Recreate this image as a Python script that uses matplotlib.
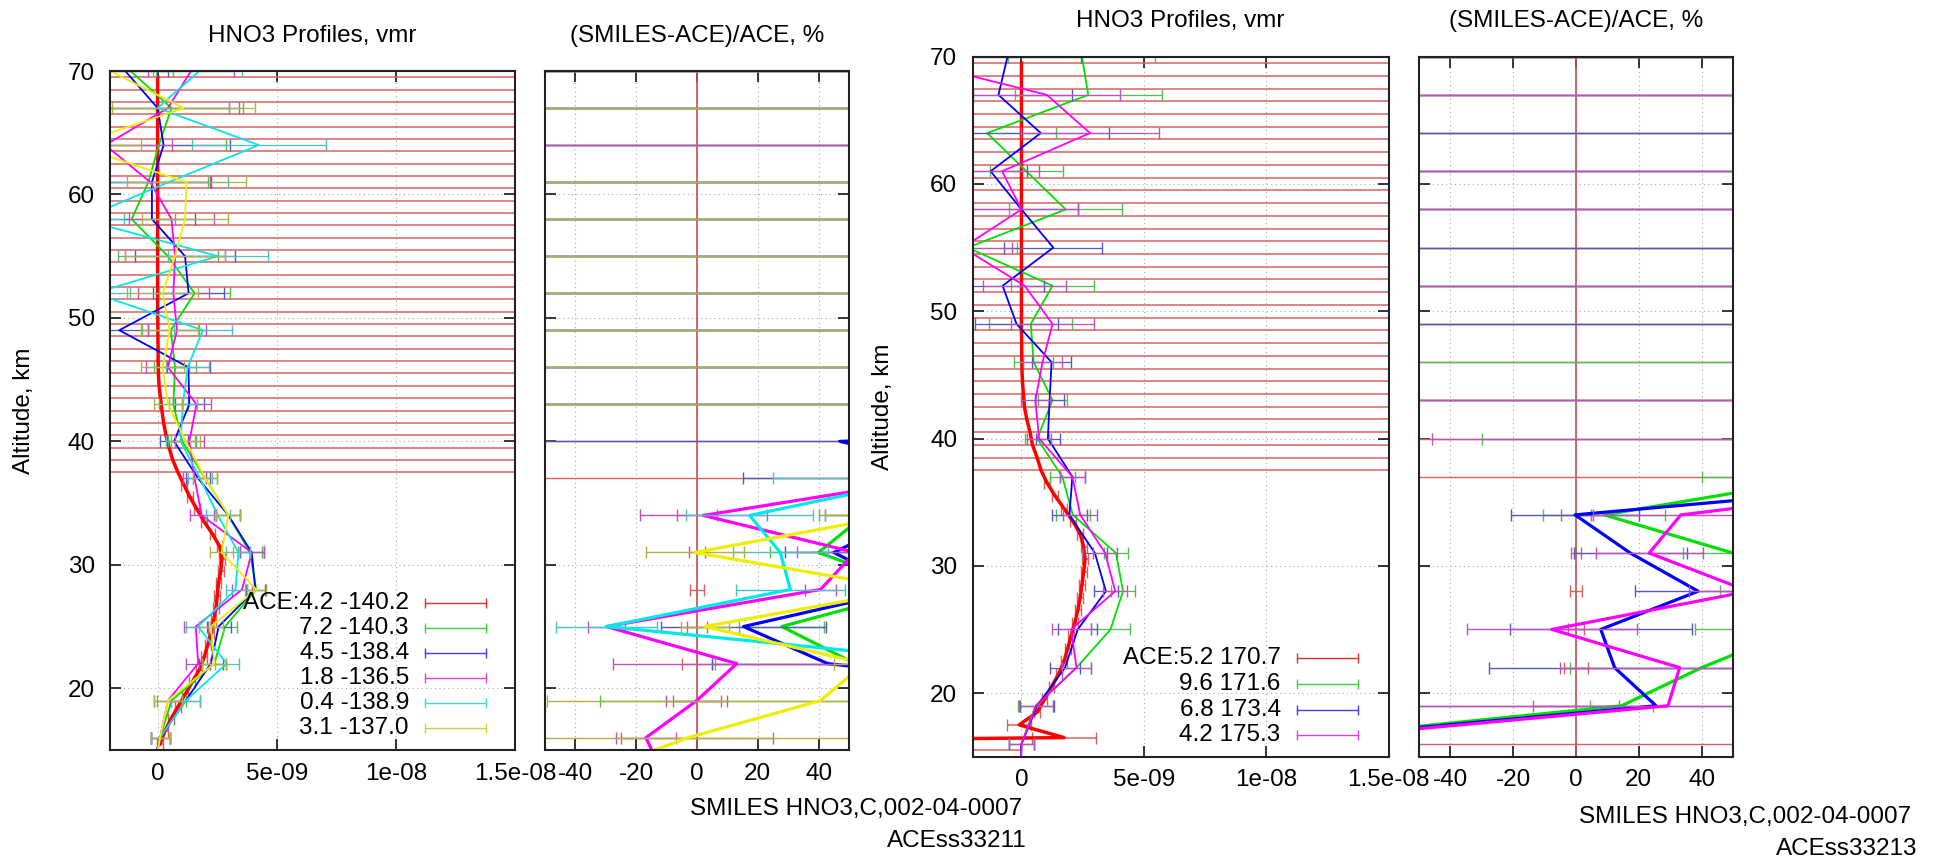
import numpy as np
import matplotlib
matplotlib.use('Agg')
import matplotlib.pyplot as plt

plt.rcParams['font.family'] = ['Liberation Sans', 'DejaVu Sans']
plt.rcParams['font.size'] = 17.5

BIG = 999.0

# SMILES retrieval levels (km) and ACE levels (km)
smiles_alt = [70, 67, 64, 61, 58, 55, 52, 49, 46, 43, 40, 37, 34, 31, 28, 25, 22, 19, 16, 13]
ace_alt = np.arange(69.5, 15.0, -1.0)

# ---------------- left pair (ACEss33211) ----------------
left_labels = ['ACE:4.2 -140.2', '7.2 -140.3', '4.5 -138.4', '1.8 -136.5', '0.4 -138.9', '3.1 -137.0']

# ACE profile, 1e-9 vmr
left_ace = [0.00, 0.00, 0.00, 0.00, 0.00, 0.00, 0.00, 0.00, 0.00, 0.00,
            0.00, 0.00, 0.00, 0.00, 0.00, 0.00, 0.00, 0.00, 0.00, 0.00,
            0.01, 0.01, 0.02, 0.02, 0.03, 0.06, 0.12, 0.18, 0.25, 0.35,
            0.48, 0.63, 0.85, 1.10, 1.35, 1.65, 1.95, 2.30, 2.60, 2.70,
            2.65, 2.55, 2.50, 2.45, 2.35, 2.25, 2.10, 1.95, 1.75, 1.45,
            1.15, 0.85, 0.55, 0.30, 0.10]
left_ace_err = [BIG] * 33 + [0.12] * 22

# SMILES profiles, 1e-9 vmr
left_green = [-1.14, 0.58, 0.05, -0.39, -1.09, 0.43, 1.55, 0.55, 0.73, 0.66,
              1.03, 2.0, 2.97, 3.87, 4.14, 2.83, 2.38, 0.58, 0.1, -0.25]
left_blue = [-1.36, 0.0, 0.25, -0.24, -0.24, 1.15, 1.3, -1.61, 1.29, 1.33,
             0.69, 1.7, 2.97, 3.95, 4.1, 2.56, 2.23, 1.18, 0.1, -0.3]
left_magenta = [1.4, 0.43, -2.2, -0.31, 0.58, 0.73, 0.66, 0.81, 0.43, 1.63,
                1.33, 1.55, 1.85, 3.95, 3.54, 1.6, 1.7, 0.43, 0.1, -0.2]
left_cyan = [1.75, 0.0, 4.25, 0.47, -3.2, 2.53, -2.65, 1.9, 1.26, 1.06,
             0.96, 1.78, 2.53, 3.39, 3.27, 1.7, 2.9, 1.18, 0.1, -0.15]
left_yellow = [-2.0, 1.1, -3.5, 1.21, 1.15, 0.73, 0.21, 0.51, 0.21, 0.43,
               1.18, 2.0, 2.97, 2.68, 4.14, 2.23, 2.38, 0.43, 0.1, -0.2]
left_err = [1.8, 3.0, 2.8, 2.5, 1.8, 2.1, 1.5, 1.2, 0.9, 0.6,
            0.6, 0.5, 0.5, 0.5, 0.4, 0.5, 0.5, 0.6, 0.4, 0.4]

# (SMILES-ACE)/ACE, %
left_d_green = [400, 400, 400, 400, 400, 400, 400, 400, 400, 400,
                400, 200, 55, 40, 73, 27.9, 52, 150, 150, 150]
left_d_blue = [400, 400, 400, 400, 400, 400, 400, 400, 400, 400,
               47, 100, 70, 45, 69, 15.3, 43, 150, 150, 150]
left_d_magenta = [400, 400, 400, 400, 400, 400, 400, 400, 400, 400,
                  400, 78, 2.1, 52, 40.6, -29.8, 13.1, -0.1, -16.8, -11]
left_d_cyan = [400, 400, 400, 400, 400, 400, 400, 400, 400, 400,
               400, 75, 17.3, 27.4, 30.7, -29.8, 93, 150, 150, 150]
left_d_yellow = [400, 400, 400, 400, 400, 400, 400, 400, 400, 400,
                 400, 200, 65, -0.7, 70, 2.6, 55, 40.6, -2.9, -36]
left_d_ace_err = [BIG] * 12 + [6.5, 2.5, 2.4, 3.4, 5, 8, 25, 30]
left_d_green_err = [BIG] * 10 + [20, 20, 15, 16, 10, 14, 46, 182, 20, 20]
left_d_blue_err = [BIG] * 11 + [85, 28, 16, 15, 27, 38, 20, 20, 20]
left_d_magenta_err = [BIG] * 10 + [20, 20, 21, 19, 5, 6, 40.7, 10, 10, 10]
left_d_cyan_err = [BIG, BIG, 20, BIG, BIG, BIG, BIG, BIG, BIG, BIG,
                   20, 50, 21, 15.7, 18, 16.5, 20, 20, 20, 20]
left_d_yellow_err = [BIG, BIG, 20, BIG, BIG, BIG, BIG, BIG, BIG, BIG,
                     20, 20, 23, 16, 10, 8, 10, 90, BIG, 20]

# ---------------- right pair (ACEss33213) ----------------
right_labels = ['ACE:5.2 170.7', '9.6 171.6', '6.8 173.4', '4.2 175.3']

right_ace = [0.00, 0.00, 0.00, 0.00, 0.00, 0.00, 0.00, 0.00, 0.00, 0.00,
             0.00, 0.00, 0.00, 0.00, 0.00, 0.00, 0.00, 0.00, 0.00, 0.00,
             0.00, 0.00, 0.01, 0.01, 0.02, 0.04, 0.08, 0.12, 0.22, 0.35,
             0.45, 0.64, 0.80, 1.05, 1.37, 1.74, 2.10, 2.40, 2.54, 2.60,
             2.54, 2.47, 2.40, 2.30, 2.18, 2.03, 1.89, 1.74, 1.52, 1.23,
             0.94, 0.64, -0.09, 1.74, -50.0]
right_ace_err = [BIG] * 33 + [0.12] * 19 + [0.5, 1.3, 50.0]

right_green = [2.47, 2.73, -1.4, 0.2, 1.81, -2.2, 1.27, 0.38, 0.5, 1.27,
               0.64, 1.67, 2.1, 3.86, 4.15, 3.64, 2.25, 0.57, 0.0, -0.05]
right_blue = [-0.57, -0.94, 0.79, -1.26, 0.0, 1.3, -0.77, -0.2, 1.23, 1.15,
              1.08, 2.08, 1.96, 3.0, 3.45, 2.3, 1.78, 0.64, 0.0, -0.05]
right_magenta = [-5.2, 1.04, 2.8, -0.79, 0.0, -2.4, 0.13, 1.27, 0.86, 0.57,
                 0.72, 2.08, 2.4, 3.42, 3.83, 2.03, 2.25, 0.6, 0.0, -0.05]
right_err = [3.0, 3.0, 2.8, 1.5, 2.3, 2.0, 1.7, 1.7, 0.8, 0.6,
             0.5, 0.5, 0.7, 0.5, 0.5, 0.8, 0.6, 0.7, 0.5, 0.5]

right_d_green = [400, 400, 400, 400, 400, 400, 400, 400, 400, 400,
                 300, 81, 9, 50, 80, 70, 40, 14.5, -106, -300]
right_d_blue = [400, 400, 400, 400, 400, 400, 400, 400, 400, 400,
                300, 135, -0.3, 17.3, 38.9, 7.9, 12.3, 25.5, -107, -300]
right_d_magenta = [400, 400, 400, 400, 400, 400, 400, 400, 400, 400,
                   300, 133, 33.4, 23.3, 55, -7.7, 33, 29.3, -103, -300]
right_d_ace_err = [BIG] * 12 + [4.8, 1.6, 1.8, 2.6, 3.8, 13.7, BIG, BIG]
right_d_green_err = [BIG] * 10 + [330, 41, 19.5, 16, 34, 32, 42, 10, 20, 20]
right_d_blue_err = [BIG, BIG, BIG, BIG, BIG, BIG, BIG, BIG, 10, BIG,
                    20, 40, 20.5, 18, 20, 29, 40, BIG, 20, 20]
right_d_magenta_err = [BIG, BIG, 10, BIG, BIG, 10, BIG, 10, 10, BIG,
                       346, 40, 28, 17, 19, 27, 38, BIG, 20, 20]

line_col = ['#ff0000', '#00e000', '#0000ff', '#ff00ff', '#00e8e8', '#eeee00']
err_col = ['#d86060', '#50c050', '#5858c0', '#c050c0', '#50c0c0', '#b0b048']
leg_col = ['#e03030', '#40d040', '#4040e0', '#e040e0', '#40d8d8', '#d0d040']


def style(ax, xticks, xlabels, ylab):
    ax.set_ylim(15, 70)
    ax.set_yticks([20, 30, 40, 50, 60, 70])
    ax.set_xticks(xticks)
    ax.set_xticklabels(xlabels)
    if not ylab:
        ax.set_yticklabels([])
    ax.tick_params(direction='in', length=8, width=1.1, top=True, right=True,
                   labelsize=17.5)
    ax.tick_params(axis='x', pad=9)
    ax.tick_params(axis='y', pad=11)
    ax.grid(True, color='#a8a8a8', lw=0.8, ls=(0, (1, 3)))
    ax.set_axisbelow(True)
    for s in ax.spines.values():
        s.set_linewidth(1.5)
        s.set_color('#222222')
        s.set_zorder(5)


def profile(ax, ace, ace_err, series, err):
    ax.errorbar(np.array(ace) * 1e-9, ace_alt, xerr=np.array(ace_err) * 1e-9,
                fmt='none', ecolor=err_col[0], elinewidth=1.1, capsize=4.5)
    ax.plot(np.array(ace) * 1e-9, ace_alt, color=line_col[0], lw=2.5)
    for i, s in enumerate(series):
        ax.errorbar(np.array(s) * 1e-9, smiles_alt, xerr=np.array(err) * 1e-9,
                    fmt='none', ecolor=err_col[i + 1], elinewidth=0.9, capsize=4.5)
        ax.plot(np.array(s) * 1e-9, smiles_alt, color=line_col[i + 1], lw=1.3)
    ax.set_xlim(-2e-9, 1.5e-8)
    style(ax, [0, 5e-9, 1e-8, 1.5e-8], ['0', '5e-09', '1e-08', '1.5e-08'], True)


def diff(ax, ace_err, series, errs):
    ax.axvline(0, color='#c05050', lw=1.2)
    ax.errorbar(np.zeros(len(smiles_alt)), smiles_alt, xerr=ace_err,
                fmt='none', ecolor=err_col[0], elinewidth=1.0, capsize=4.5)
    for i, (s, e) in enumerate(zip(series, errs)):
        ax.errorbar(s, smiles_alt, xerr=e, fmt='none', ecolor=err_col[i + 1],
                    elinewidth=1.0, capsize=4.5)
        ax.plot(s, smiles_alt, color=line_col[i + 1], lw=2.3)
    ax.set_xlim(-50, 50)
    style(ax, [-40, -20, 0, 20, 40], ['-40', '-20', '0', '20', '40'], False)


def legend(ax, labels, xt, x0, x1, y0, dy):
    for i, lab in enumerate(labels):
        y = y0 - i * dy
        ax.text(xt, y, lab, transform=ax.transAxes, ha='right', va='center', fontsize=17.5)
        ax.plot([x0, x1], [y, y], transform=ax.transAxes, color=leg_col[i], lw=1.0)
        ax.plot([x0, x1], [y, y], transform=ax.transAxes, ls='none', marker='|',
                ms=6.5, mew=1.0, color=leg_col[i])


W, H = 1942.0, 858.0
fig = plt.figure(figsize=(19.42, 8.58), dpi=100)


def panel(x0, x1, y0, y1):
    return fig.add_axes([x0 / W, 1 - y1 / H, (x1 - x0) / W, (y1 - y0) / H])


ax1 = panel(110, 515, 71, 750)
ax2 = panel(545, 849, 71, 750)
ax3 = panel(972.5, 1388.6, 56.7, 756.7)
ax4 = panel(1419, 1733, 56.7, 756.7)

profile(ax1, left_ace, left_ace_err,
        [left_green, left_blue, left_magenta, left_cyan, left_yellow], left_err)
legend(ax1, left_labels, 0.738, 0.778, 0.928, 0.216, 0.0367)

diff(ax2, left_d_ace_err,
     [left_d_green, left_d_blue, left_d_magenta, left_d_cyan, left_d_yellow],
     [left_d_green_err, left_d_blue_err, left_d_magenta_err, left_d_cyan_err, left_d_yellow_err])

profile(ax3, right_ace, right_ace_err, [right_green, right_blue, right_magenta], right_err)
legend(ax3, right_labels, 0.7407, 0.7793, 0.9269, 0.1406, 0.0367)

diff(ax4, right_d_ace_err, [right_d_green, right_d_blue, right_d_magenta],
     [right_d_green_err, right_d_blue_err, right_d_magenta_err])

# titles and labels
fig.text(312.5 / W, 1 - 41.7 / H, 'HNO3 Profiles, vmr', ha='center', va='baseline')
fig.text(697 / W, 1 - 41.7 / H, '(SMILES-ACE)/ACE, %', ha='center', va='baseline')
fig.text(1180.5 / W, 1 - 26.7 / H, 'HNO3 Profiles, vmr', ha='center', va='baseline')
fig.text(1576 / W, 1 - 26.7 / H, '(SMILES-ACE)/ACE, %', ha='center', va='baseline')
fig.text(24 / W, 1 - 410.5 / H, 'Altitude, km', rotation=90, ha='center', va='center')
fig.text(883 / W, 1 - 407 / H, 'Altitude, km', rotation=90, ha='center', va='center')
fig.text(1022 / W, 1 - 815 / H, 'SMILES HNO3,C,002-04-0007', ha='right', va='baseline')
fig.text(1027 / W, 1 - 846.7 / H, 'ACEss33211', ha='right', va='baseline')
fig.text(1911 / W, 1 - 823 / H, 'SMILES HNO3,C,002-04-0007', ha='right', va='baseline')
fig.text(1917 / W, 1 - 855 / H, 'ACEss33213', ha='right', va='baseline')

fig.savefig('out.png', dpi=100)
